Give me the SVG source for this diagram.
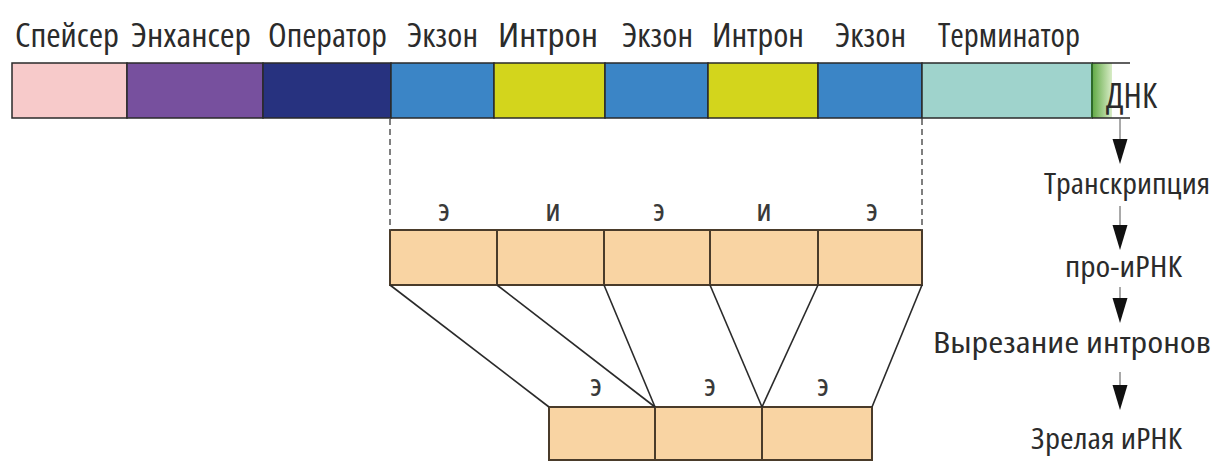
<svg xmlns="http://www.w3.org/2000/svg" width="1216" height="463" viewBox="0 0 1216 463">
<style>
.lbl{font-family:"Open Sans","Liberation Sans",Arial,sans-serif;font-stretch:75%;fill:#2b2b2b;}
.top{font-size:32px;}
.side{font-size:29px;}
.ei{font-size:24px;font-weight:600;text-anchor:middle;fill:#3a3a3a;}
.seg{stroke:#2a2a2a;stroke-width:1.5;}
.box{fill:#f9d4a3;stroke:#4a3b2a;stroke-width:2;}
.conn{stroke:#2a2a2a;stroke-width:1.6;fill:none;}
.dash{stroke:#555;stroke-width:1.5;stroke-dasharray:6 4;fill:none;}
.thin{stroke:#555;stroke-width:1;}
</style>
<defs>
<linearGradient id="grn" x1="0" y1="0" x2="1" y2="0">
<stop offset="0" stop-color="#5fa843"/>
<stop offset="1" stop-color="#d8ecc6"/>
</linearGradient>
<polygon id="tri" points="-7.5,0 7.5,0 0,25" fill="#111"/>
</defs>
<rect width="1216" height="463" fill="#ffffff"/>

<g id="dna">
<rect x="12" y="63" width="115" height="55" fill="#f7caca" class="seg"/>
<rect x="127" y="63" width="136" height="55" fill="#77509e" class="seg"/>
<rect x="263" y="63" width="128" height="55" fill="#27327f" class="seg"/>
<rect x="391" y="63" width="103" height="55" fill="#3b85c6" class="seg"/>
<rect x="494" y="63" width="111" height="55" fill="#d3d51c" class="seg"/>
<rect x="605" y="63" width="103" height="55" fill="#3b85c6" class="seg"/>
<rect x="708" y="63" width="110" height="55" fill="#d3d51c" class="seg"/>
<rect x="818" y="63" width="104" height="55" fill="#3b85c6" class="seg"/>
<rect x="922" y="63" width="170" height="55" fill="#9fd3cc" class="seg"/>
<rect x="1092" y="63" width="20" height="55" fill="url(#grn)"/>
<line x1="1092" y1="63" x2="1092" y2="118" stroke="#2f6a2a" stroke-width="2"/>
<line x1="1092" y1="63" x2="1130" y2="63" class="seg"/>
<line x1="1092" y1="118" x2="1130" y2="118" class="seg"/>
<text class="lbl" style="font-size:35px" x="1106" y="108" textLength="51" lengthAdjust="spacingAndGlyphs">ДНК</text>
</g>

<g id="dna-labels">
<text class="lbl top" x="15" y="47" textLength="104" lengthAdjust="spacingAndGlyphs">Спейсер</text>
<text class="lbl top" x="131" y="47" textLength="120" lengthAdjust="spacingAndGlyphs">Энхансер</text>
<text class="lbl top" x="268" y="47" textLength="119" lengthAdjust="spacingAndGlyphs">Оператор</text>
<text class="lbl top" x="407" y="47" textLength="71" lengthAdjust="spacingAndGlyphs">Экзон</text>
<text class="lbl top" x="498" y="47" textLength="100" lengthAdjust="spacingAndGlyphs">Интрон</text>
<text class="lbl top" x="622" y="47" textLength="71" lengthAdjust="spacingAndGlyphs">Экзон</text>
<text class="lbl top" x="712" y="47" textLength="92" lengthAdjust="spacingAndGlyphs">Интрон</text>
<text class="lbl top" x="835" y="47" textLength="71" lengthAdjust="spacingAndGlyphs">Экзон</text>
<text class="lbl top" x="938" y="47" textLength="142" lengthAdjust="spacingAndGlyphs">Терминатор</text>
</g>

<g id="pro-mrna">
<rect x="390" y="230" width="107" height="55" class="box"/>
<rect x="497" y="230" width="107" height="55" class="box"/>
<rect x="604" y="230" width="106" height="55" class="box"/>
<rect x="710" y="230" width="108" height="55" class="box"/>
<rect x="818" y="230" width="104" height="55" class="box"/>
<text class="lbl ei" x="444" y="221">Э</text>
<text class="lbl ei" x="553" y="221">И</text>
<text class="lbl ei" x="659" y="221">Э</text>
<text class="lbl ei" x="764" y="221">И</text>
<text class="lbl ei" x="872" y="221">Э</text>
</g>

<g id="mature-mrna">
<rect x="549" y="407" width="106" height="53" class="box"/>
<rect x="655" y="407" width="107" height="53" class="box"/>
<rect x="762" y="407" width="110" height="53" class="box"/>
<text class="lbl ei" x="596" y="396">Э</text>
<text class="lbl ei" x="710" y="396">Э</text>
<text class="lbl ei" x="823" y="396">Э</text>
</g>

<g id="steps">
<text class="lbl side" x="1044" y="194" textLength="166" lengthAdjust="spacingAndGlyphs">Транскрипция</text>
<text class="lbl side" x="1065" y="277" textLength="117" lengthAdjust="spacingAndGlyphs">про-иРНК</text>
<text class="lbl side" x="933" y="353" textLength="278" lengthAdjust="spacingAndGlyphs">Вырезание интронов</text>
<text class="lbl side" x="1031" y="449" textLength="151" lengthAdjust="spacingAndGlyphs">Зрелая иРНК</text>
</g>

<g id="connectors">
<line x1="390" y1="119" x2="390" y2="230" class="dash"/>
<line x1="922" y1="119" x2="922" y2="230" class="dash"/>
<line x1="390" y1="285" x2="549" y2="407" class="conn"/>
<line x1="497" y1="285" x2="655" y2="407" class="conn"/>
<line x1="604" y1="285" x2="655" y2="407" class="conn"/>
<line x1="710" y1="285" x2="762" y2="407" class="conn"/>
<line x1="818" y1="285" x2="762" y2="407" class="conn"/>
<line x1="922" y1="285" x2="872" y2="407" class="conn"/>
<line x1="1120" y1="119" x2="1120" y2="140" class="thin"/>
<use href="#tri" x="1120" y="139"/>
<line x1="1120" y1="206" x2="1120" y2="226" class="thin"/>
<use href="#tri" x="1120" y="225"/>
<line x1="1120" y1="287" x2="1120" y2="299" class="thin"/>
<use href="#tri" x="1120" y="298"/>
<line x1="1120" y1="372" x2="1120" y2="386" class="thin"/>
<use href="#tri" x="1120" y="385"/>
</g>
</svg>
